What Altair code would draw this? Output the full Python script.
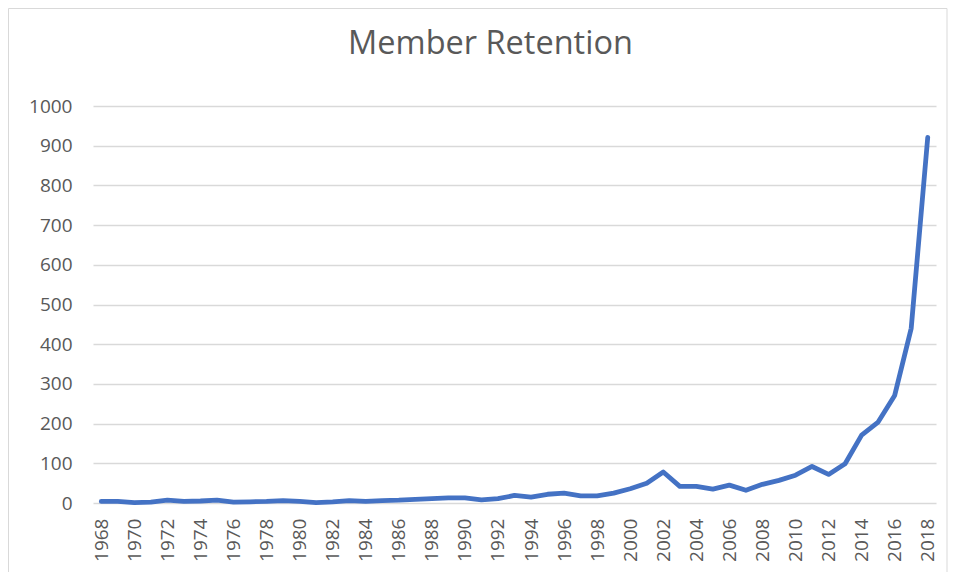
import altair as alt
import pandas as pd

years = list(range(1968, 2019))
members = [4, 4, 1, 2, 7, 4, 5, 7, 2, 3,
           4, 6, 4, 1, 3, 6, 4, 6, 7, 9,
           11, 13, 13, 8, 11, 19, 15, 22, 25, 18,
           18, 25, 36, 50, 78, 42, 42, 35, 45, 32,
           47, 57, 70, 92, 72, 99, 171, 204, 271, 440,
           921]
tick_years = list(range(1968, 2019, 2))
y_ticks = list(range(0, 1001, 100))

df = pd.DataFrame({"year": years, "members": members})

W, H = 843, 397
PAD_L, PAD_T = 85, 98

label_color = "#595959"
font = "Open Sans"

border = alt.Chart(pd.DataFrame({"a": [0]})).mark_rect(
    fill=None, stroke="#d9d9d9", strokeWidth=1
).encode(
    x=alt.value(-PAD_L + 0.5),
    x2=alt.value(W + 11),
    y=alt.value(-PAD_T + 0.5),
    y2=alt.value(H + 90),
)

line = alt.Chart(df).mark_line(
    color="#4472C4", strokeWidth=4.8, strokeCap="round", strokeJoin="round"
).encode(
    x=alt.X(
        "year:O",
        scale=alt.Scale(type="point", padding=0.5),
        axis=alt.Axis(
            title=None,
            values=tick_years,
            labelAngle=270,
            labelPadding=15,
            ticks=False,
            domain=False,
            grid=False,
            labelFont=font,
            labelFontSize=19,
            labelColor=label_color,
        ),
    ),
    y=alt.Y(
        "members:Q",
        scale=alt.Scale(domain=[0, 1000], nice=False),
        axis=alt.Axis(
            title=None,
            values=y_ticks,
            format="d",
            ticks=False,
            domain=False,
            labelPadding=21,
            labelFont=font,
            labelFontSize=19,
            labelColor=label_color,
            gridColor="#d9d9d9",
            gridWidth=1.5,
        ),
    ),
)

chart = alt.layer(border, line).properties(
    width=W,
    height=H,
    title=alt.TitleParams(
        "Member Retention",
        font=font,
        fontSize=32.5,
        fontWeight="normal",
        color=label_color,
        anchor="middle",
        frame="group",
        dx=-24,
        offset=-52,
    ),
    autosize=alt.AutoSizeParams(type="none"),
    padding={"left": PAD_L, "top": PAD_T, "right": 13, "bottom": 69},
).configure_view(strokeWidth=0)

chart.save("out.html", embed_options={"renderer": "svg", "actions": False})
